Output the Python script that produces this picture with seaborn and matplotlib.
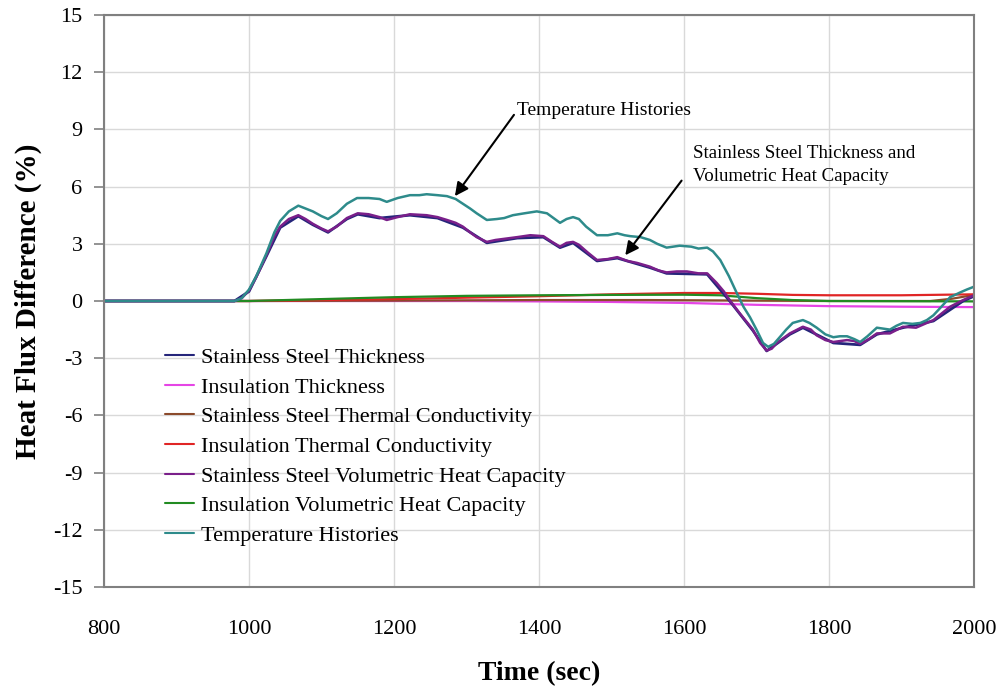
import numpy as np
import pandas as pd
import matplotlib
matplotlib.use("Agg")
import matplotlib.pyplot as plt
import seaborn as sns

# ---------------- data ----------------
temp_t = [800, 980, 990, 1000, 1010, 1024, 1035, 1043, 1055, 1068, 1078, 1088, 1100, 1109, 1121,
          1135, 1149, 1165, 1180, 1190, 1205, 1222, 1235, 1245, 1260, 1273, 1285, 1295, 1305,
          1314, 1328, 1342, 1352, 1364, 1380, 1397, 1411, 1420, 1429, 1438, 1447, 1455, 1465,
          1480, 1495, 1508, 1518, 1526, 1540, 1553, 1563, 1576, 1594, 1610, 1620, 1632, 1640,
          1650, 1662, 1673, 1682, 1691, 1700, 1709, 1716, 1724, 1732, 1741, 1750, 1764, 1773,
          1783, 1795, 1806, 1815, 1825, 1835, 1843, 1853, 1866, 1875, 1884, 1893, 1902, 1915,
          1926, 1935, 1944, 1955, 1967, 1981, 1990, 2000]
temp_v = [0, 0, 0.15, 0.6, 1.3, 2.5, 3.6, 4.2, 4.7, 5.0, 4.85, 4.7, 4.45, 4.3, 4.6,
          5.1, 5.4, 5.4, 5.35, 5.2, 5.4, 5.55, 5.55, 5.6, 5.55, 5.5, 5.35, 5.1, 4.85,
          4.6, 4.25, 4.3, 4.35, 4.5, 4.6, 4.7, 4.6, 4.35, 4.1, 4.3, 4.4, 4.3, 3.9,
          3.45, 3.45, 3.55, 3.45, 3.4, 3.35, 3.2, 3.0, 2.8, 2.9, 2.85, 2.75, 2.8, 2.6,
          2.15, 1.3, 0.4, -0.3, -0.85, -1.5, -2.2, -2.4, -2.25, -1.9, -1.5, -1.15, -1.0, -1.15,
          -1.4, -1.75, -1.9, -1.85, -1.85, -2.0, -2.15, -1.85, -1.4, -1.45, -1.5, -1.3, -1.15, -1.2,
          -1.15, -1.0, -0.75, -0.3, 0.2, 0.45, 0.6, 0.75]

ssvhc_t = [800, 980, 990, 1000, 1010, 1024, 1035, 1043, 1055, 1068, 1078, 1088, 1100, 1109, 1121,
           1135, 1150, 1165, 1180, 1190, 1205, 1222, 1245, 1260, 1273, 1285, 1295, 1305, 1314,
           1328, 1340, 1350, 1370, 1388, 1406, 1418, 1429, 1438, 1447, 1455, 1467, 1480, 1495,
           1508, 1522, 1535, 1553, 1565, 1576, 1590, 1604, 1620, 1632, 1645, 1655, 1663, 1677,
           1695, 1705, 1714, 1721, 1728, 1746, 1764, 1775, 1783, 1795, 1806, 1825, 1835, 1843,
           1855, 1866, 1884, 1902, 1920, 1944, 1967, 1985, 2000]
ssvhc_v = [0, 0, 0.15, 0.55, 1.25, 2.4, 3.4, 3.9, 4.3, 4.5, 4.3, 4.05, 3.8, 3.65, 3.9,
           4.35, 4.6, 4.55, 4.4, 4.25, 4.4, 4.55, 4.5, 4.4, 4.25, 4.1, 3.9, 3.6, 3.35,
           3.1, 3.2, 3.25, 3.35, 3.45, 3.4, 3.1, 2.85, 3.05, 3.1, 2.95, 2.55, 2.15, 2.2,
           2.3, 2.1, 2.0, 1.8, 1.6, 1.5, 1.55, 1.55, 1.45, 1.45, 0.95, 0.5, 0.05, -0.65,
           -1.5, -2.2, -2.6, -2.5, -2.2, -1.7, -1.35, -1.5, -1.8, -2.05, -2.15, -2.05, -2.1, -2.25,
           -2.0, -1.7, -1.7, -1.35, -1.4, -1.0, -0.3, 0.05, 0.3]

ssthk_t = [800, 980, 1000, 1024, 1043, 1068, 1088, 1109, 1135, 1150, 1180, 1222, 1260, 1295,
           1328, 1370, 1406, 1429, 1447, 1480, 1508, 1553, 1576, 1632, 1663, 1695, 1714, 1746,
           1764, 1806, 1843, 1866, 1902, 1944, 1985, 2000]
ssthk_v = [0, 0, 0.5, 2.35, 3.85, 4.45, 4.0, 3.6, 4.3, 4.55, 4.35, 4.5, 4.35, 3.85,
           3.05, 3.3, 3.35, 2.8, 3.05, 2.1, 2.25, 1.75, 1.45, 1.4, 0.0, -1.55, -2.62, -1.75,
           -1.4, -2.2, -2.3, -1.75, -1.4, -1.05, 0.0, 0.25]

ithk_t = [800, 1300, 1400, 1500, 1600, 1700, 1800, 1900, 2000]
ithk_v = [0, 0, -0.02, -0.05, -0.1, -0.2, -0.27, -0.3, -0.32]

sstc_t = [800, 1000, 1200, 1400, 1550, 1700, 1800, 1940, 1970, 2000]
sstc_v = [0, 0, 0.02, 0.05, 0.05, 0.02, 0.0, 0.0, 0.12, 0.32]

itc_t = [800, 1000, 1200, 1400, 1500, 1600, 1650, 1700, 1750, 1800, 1900, 2000]
itc_v = [0, 0, 0.1, 0.25, 0.35, 0.42, 0.42, 0.38, 0.32, 0.3, 0.3, 0.35]

ivhc_t = [800, 1000, 1100, 1200, 1300, 1400, 1500, 1600, 1650, 1700, 1750, 1800, 2000]
ivhc_v = [0, 0, 0.1, 0.2, 0.27, 0.3, 0.32, 0.33, 0.3, 0.15, 0.05, 0.0, -0.02]

labels = ["Stainless Steel Thickness", "Insulation Thickness",
          "Stainless Steel Thermal Conductivity", "Insulation Thermal Conductivity",
          "Stainless Steel Volumetric Heat Capacity", "Insulation Volumetric Heat Capacity",
          "Temperature Histories"]
colors = ["#25257a", "#e545e5", "#8b4a2b", "#e02525", "#7a1f8a", "#228b22", "#2e8b8b"]

x_ticks = [800, 1000, 1200, 1400, 1600, 1800, 2000]
y_ticks = [-15, -12, -9, -6, -3, 0, 3, 6, 9, 12, 15]

series = {
    labels[0]: (ssthk_t, ssthk_v),
    labels[1]: (ithk_t, ithk_v),
    labels[2]: (sstc_t, sstc_v),
    labels[3]: (itc_t, itc_v),
    labels[4]: (ssvhc_t, ssvhc_v),
    labels[5]: (ivhc_t, ivhc_v),
    labels[6]: (temp_t, temp_v),
}

# ---------------- plot ----------------
sns.set_theme(style="white")
plt.rcParams['font.family'] = ['Liberation Serif', 'DejaVu Serif']
plt.rcParams['text.color'] = 'black'
plt.rcParams['axes.labelcolor'] = 'black'
plt.rcParams['xtick.color'] = 'black'
plt.rcParams['ytick.color'] = 'black'

fig = plt.figure(figsize=(10.03, 6.90), dpi=100)
ax = fig.add_axes([104 / 1003, 1 - 587 / 690, 870 / 1003, 572 / 690])

draw_order = [1, 2, 3, 5, 0, 4, 6]
widths = {0: 2.0, 1: 1.6, 2: 1.6, 3: 1.6, 4: 1.8, 5: 1.6, 6: 1.8}
handles = {}
for i in draw_order:
    lab = labels[i]
    t, v = series[lab]
    df = pd.DataFrame({"t": t, "v": v})
    sns.lineplot(data=df, x="t", y="v", ax=ax, color=colors[i], linewidth=widths[i],
                 estimator=None, sort=True, label=lab)
    handles[lab] = ax.get_lines()[-1]

ax.set_xlim(800, 2000)
ax.set_ylim(-15, 15)
ax.set_xticks(x_ticks)
ax.set_yticks(y_ticks)
ax.set_xticklabels([str(x) for x in x_ticks])
ax.set_yticklabels([str(y) for y in y_ticks])
ax.grid(True, color="#d9d9d9", linewidth=1.0)
ax.set_axisbelow(True)
for s in ax.spines.values():
    s.set_color("#808080")
    s.set_linewidth(1.5)
ax.tick_params(axis="y", length=7, width=1.2, color="#808080", labelcolor="black",
               labelsize=16, pad=8.5, direction="out", left=True)
ax.tick_params(axis="x", length=0, labelsize=16, pad=23.5, labelcolor="black")

ax.set_xlabel("Time (sec)", fontsize=20, fontweight="bold", labelpad=16, color="black")
ax.set_ylabel("Heat Flux Difference (%)", fontsize=21, fontweight="bold", labelpad=8, color="black")

leg = ax.legend([handles[l] for l in labels], labels, loc="upper left",
                bbox_to_anchor=(0.06, 0.4345), frameon=False, fontsize=16,
                handlelength=1.3, handletextpad=0.3, labelspacing=0.41, borderaxespad=0)
for lh in leg.get_lines():
    lh.set_linewidth(1.5)
for tx in leg.get_texts():
    tx.set_color("black")

ax.annotate("Temperature Histories", xy=(1284, 5.5), xytext=(1370, 10.0),
            fontsize=14, va="center", ha="left", color="black",
            arrowprops=dict(arrowstyle="-|>", color="black", lw=1.5,
                            shrinkA=0, shrinkB=0, mutation_scale=20,
                            relpos=(0.0, 0.5)))
ax.annotate("Stainless Steel Thickness and\nVolumetric Heat Capacity", xy=(1519, 2.4),
            xytext=(1612, 7.15), fontsize=13.6, va="center", ha="left", color="black",
            linespacing=1.45,
            arrowprops=dict(arrowstyle="-|>", color="black", lw=1.5,
                            shrinkA=0, shrinkB=0, mutation_scale=20,
                            relpos=(-0.05, 0.1)))

fig.savefig("out.png", dpi=100)
